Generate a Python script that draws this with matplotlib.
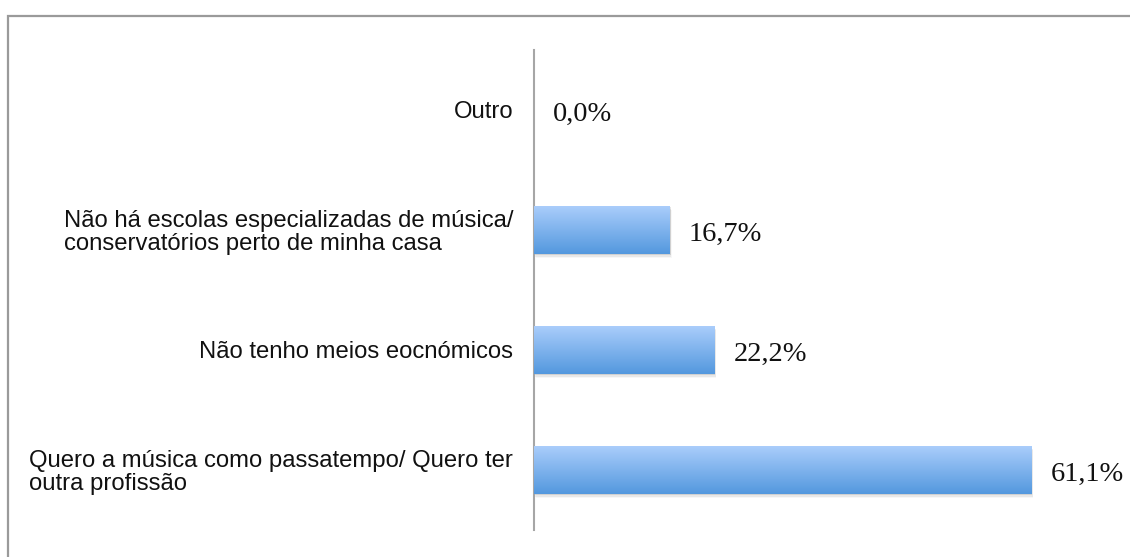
import matplotlib
matplotlib.use("Agg")
from matplotlib import pyplot as plt
from matplotlib.patches import Rectangle
from matplotlib.transforms import ScaledTranslation
import numpy as np

# dados
categorias = [
    "Quero a música como passatempo/ Quero ter\noutra profissão",
    "Não tenho meios eocnómicos",
    "Não há escolas especializadas de música/\nconservatórios perto de minha casa",
    "Outro",
]
valores = [61.1, 22.2, 16.7, 0.0]
rotulos = ["61,1%", "22,2%", "16,7%", "0,0%"]

W, H = 1130, 557
fig = plt.figure(figsize=(W / 100, H / 100), dpi=100)
ax = fig.add_axes([534 / W, 1 - 530 / H, (1104 - 534) / W, (530 - 50) / H])

y = np.arange(len(categorias))
bars = ax.barh(y, valores, height=0.4, color="none", edgecolor="none", zorder=3)

# gradiente vertical (claro em cima, mais escuro em baixo)
grad = np.linspace(0, 1, 256).reshape(-1, 1)
cmap = matplotlib.colors.LinearSegmentedColormap.from_list("g", ["#aacdfb", "#5398de"])
for b in bars:
    x0, y0, w, h = b.get_x(), b.get_y(), b.get_width(), b.get_height()
    if w <= 0:
        continue
    # sombra suave
    for k, a in [(0.012, 0.10), (0.022, 0.06), (0.032, 0.03)]:
        sh = Rectangle((x0 + k * 6, y0 - k), w, h, facecolor="#000000", alpha=a,
                       edgecolor="none", zorder=2)
        ax.add_patch(sh)
    im = ax.imshow(grad, cmap=cmap, aspect="auto", extent=(x0, x0 + w, y0, y0 + h),
                   origin="upper", zorder=3)
    im.set_clip_path(b)

for yi, v, t in zip(y, valores, rotulos):
    ax.annotate(t, (v, yi), xytext=(19, -4), textcoords="offset pixels",
                va="center", ha="left", fontsize=20.5, family="Liberation Serif", color="#111111")

ax.set_xlim(0, 70)
ax.set_ylim(-0.5, len(categorias) - 0.5)
ax.set_yticks(y)
ax.set_yticklabels(categorias, fontsize=17.2, family="Liberation Sans", color="#111111",
                   ha="right", multialignment="left", linespacing=1.05)
desloc = ScaledTranslation(0, -3 / 100, fig.dpi_scale_trans)
for lab in ax.get_yticklabels():
    lab.set_transform(lab.get_transform() + desloc)
ax.tick_params(axis="y", length=0, pad=15)
ax.set_xticks([])
for s in ["top", "right", "bottom"]:
    ax.spines[s].set_visible(False)
ax.spines["left"].set_color("#a6a6a6")
ax.spines["left"].set_linewidth(1.5)

# moldura do gráfico
fig.add_artist(Rectangle((7.5 / W, -0.1), 1.2, 1 - 15.5 / H + 0.1, transform=fig.transFigure,
                         facecolor="none", edgecolor="#9a9a9a", linewidth=1.6))

fig.savefig("out.png", dpi=100)
